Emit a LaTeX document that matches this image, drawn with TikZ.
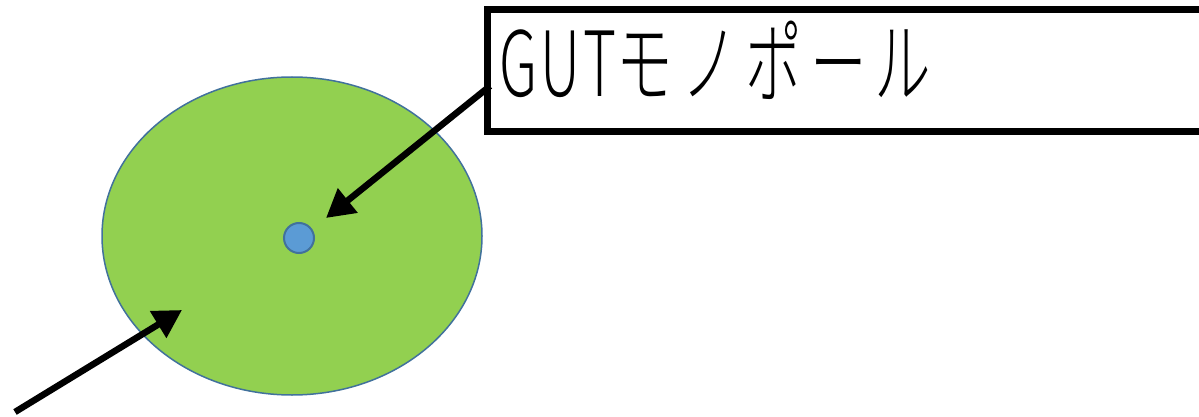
\documentclass[tikz,border=0pt]{standalone}
\usepackage{fontspec}
\setmainfont{Noto Sans CJK JP}[UprightFont={* Light}]
\usetikzlibrary{arrows.meta,shapes.geometric}
\definecolor{grn}{HTML}{92D050}
\definecolor{bluefill}{HTML}{5B9BD5}
\definecolor{blueedge}{HTML}{41719C}
\tikzset{
  bigarrow/.style={line width=6.5pt,-{Triangle[length=28pt,width=30pt]}},
  labelbox/.style={draw=black,line width=7pt,fill=white},
}
\begin{document}
\begin{tikzpicture}[x=1pt,y=-1pt]
\useasboundingbox (0,0) rectangle (1199,417);
\node[ellipse,draw=blueedge,line width=1.5pt,fill=grn,minimum width=380pt,minimum height=318pt,inner sep=0pt] (disk) at (292,236) {};
\node[circle,draw=blueedge,line width=2pt,fill=bluefill,minimum size=30pt,inner sep=0pt] (core) at (299,238) {};
\draw[labelbox] (487,10) rectangle (1215,132);
\node[anchor=base west,inner sep=0pt,font=\fontsize{90pt}{90pt}\selectfont] (lab) at (499,97) {\resizebox{432pt}{\height}{{\addfontfeature{LetterSpace=6}GUT}{\addfontfeature{LetterSpace=14}モノポール}}};
\coordinate (s1) at (490,86);
\coordinate (t1) at (326,218);
\coordinate (s2) at (15,412);
\coordinate (t2) at (182,310);
\draw[bigarrow] (s1) -- (t1);
\draw[bigarrow] (s2) -- (t2);
\end{tikzpicture}
\end{document}
